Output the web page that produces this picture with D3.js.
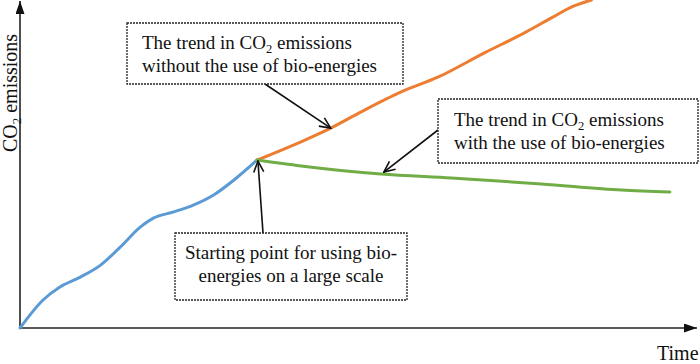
<!DOCTYPE html>
<html><head><meta charset="utf-8">
<script src="https://cdn.jsdelivr.net/npm/d3@7"></script>
<style>html,body{margin:0;padding:0;background:#fff;}svg{display:block;}
text{font-family:"Liberation Serif","Times New Roman",Tinos,"DejaVu Serif",serif;}</style>
</head><body>
<script>
// Data (arbitrary units)
const historyT   = [0, 3.4, 5.9, 8.9, 11.9, 14.8, 17.8, 19.7, 22.7, 25.6, 28.6, 31.6, 35];
const historyCO2 = [0, 8.6, 12.6, 15.6, 19.3, 24.8, 31.0, 33.7, 35.6, 37.7, 40.8, 45.4, 51.5];
const withoutT   = [35, 41.5, 45.9, 50.4, 56.3, 61.8, 68.6, 74.5, 78.5, 81.5, 84.4];
const withoutCO2 = [51.5, 57.1, 61.3, 66.3, 72.4, 77.0, 84.4, 90.5, 95.1, 98.5, 100.6];
const withT      = [35, 41.5, 53.3, 63.7, 77.0, 88.9, 96.0];
const withCO2    = [51.5, 49.7, 47.2, 46.0, 44.2, 42.3, 41.7];
const xLabel = "Time";
const yLabel = ["CO", "2", " emissions"];
const noteWithout = [["The trend in CO", "2", " emissions"], ["without the use of bio-energies"]];
const noteWith    = [["The trend in CO", "2", " emissions"], ["with the use of bio-energies"]];
const noteStart   = [["Starting point for using bio-"], ["energies on a large scale"]];

const W = 700, H = 364;
const svg = d3.select("body").append("svg").attr("width", W).attr("height", H);
const x = d3.scaleLinear().domain([0, 100]).range([20, 697]);
const y = d3.scaleLinear().domain([0, 100.6]).range([328, 0]);

const defs = svg.append("defs");
defs.append("marker").attr("id", "tri").attr("viewBox", "0 0 13 9")
  .attr("refX", 13).attr("refY", 4.5).attr("markerWidth", 13).attr("markerHeight", 9)
  .attr("markerUnits", "userSpaceOnUse").attr("orient", "auto")
  .append("path").attr("d", "M0,0L13,4.5L0,9Z").attr("fill", "#111");
defs.append("marker").attr("id", "open").attr("viewBox", "-1 -1 13 12")
  .attr("refX", 11).attr("refY", 5).attr("markerWidth", 13).attr("markerHeight", 12)
  .attr("markerUnits", "userSpaceOnUse").attr("orient", "auto")
  .append("path").attr("d", "M0,0L11,5L0,10").attr("fill", "none").attr("stroke", "#111").attr("stroke-width", 1.6);

// axes
const gx = svg.append("g").attr("transform", `translate(0,${y(0)})`)
  .call(d3.axisBottom(x).ticks(0).tickSizeOuter(0));
gx.select(".domain").attr("stroke", "#222").attr("stroke-width", 1.6).attr("marker-end", "url(#tri)")
  .attr("d", `M${x(0)},0H${x(100)}`);
const yAxisScale = d3.scaleLinear().domain([0, 100]).range([328, 1]);
const gy = svg.append("g").attr("transform", `translate(${x(0)},0)`)
  .call(d3.axisLeft(yAxisScale).ticks(0).tickSizeOuter(0));
gy.select(".domain").attr("stroke", "#222").attr("stroke-width", 1.6).attr("marker-end", "url(#tri)")
  .attr("d", `M0,${yAxisScale(0)}V${yAxisScale(100)}`);

// lines
const line = d3.line().x(d => x(d[0])).y(d => y(d[1])).curve(d3.curveMonotoneX);
const series = [
  {t: historyT, v: historyCO2, c: "#5b9bd5"},
  {t: withoutT, v: withoutCO2, c: "#ed7d31"},
  {t: withT, v: withCO2, c: "#70ad47"}
];
series.forEach(s => {
  svg.append("path").datum(s.t.map((t, i) => [t, s.v[i]]))
    .attr("d", line).attr("fill", "none").attr("stroke", s.c)
    .attr("stroke-width", 3).attr("stroke-linecap", "round");
});

// axis labels
svg.append("text").attr("x", 657).attr("y", 360)
  .attr("font-size", 20).attr("fill", "#111").text(xLabel);
const yl = svg.append("text").attr("transform", "translate(17,93) rotate(-90)")
  .attr("text-anchor", "middle").attr("font-size", 20).attr("fill", "#111");
yl.append("tspan").text(yLabel[0]);
yl.append("tspan").attr("font-size", 13).attr("dy", 4).text(yLabel[1]);
yl.append("tspan").attr("dy", -4).text(yLabel[2]);

function note(box, lines, tx, anchor, y0) {
  svg.append("rect").attr("x", box[0]).attr("y", box[1]).attr("width", box[2] - box[0])
    .attr("height", box[3] - box[1]).attr("fill", "#fff").attr("stroke", "#222")
    .attr("stroke-width", 1.3).attr("stroke-dasharray", "2,1");
  lines.forEach((parts, i) => {
    const t = svg.append("text").attr("x", tx).attr("y", y0 + i * 23).attr("text-anchor", anchor)
      .attr("font-size", 19).attr("fill", "#111");
    parts.forEach((p, j) => {
      const ts = t.append("tspan").text(p);
      if (parts.length === 3 && j === 1) ts.attr("font-size", 12.5).attr("dy", 4);
      if (parts.length === 3 && j === 2) ts.attr("dy", -4);
    });
  });
}
function arrow(x1, y1, x2, y2) {
  svg.append("line").attr("x1", x1).attr("y1", y1).attr("x2", x2).attr("y2", y2)
    .attr("stroke", "#111").attr("stroke-width", 1.6).attr("marker-end", "url(#open)");
}
arrow(265, 84, x(withoutT[2]), y(withoutCO2[2]));
arrow(438, 130, x(withT[2]) + 3, y(withCO2[2]) - 2);
arrow(263, 233, x(historyT[historyT.length - 1]) + 1, y(historyCO2[historyCO2.length - 1]) + 1);

note([127, 23, 403, 84], noteWithout, 142, "start", 49);
note([438, 99, 698, 163], noteWith, 454, "start", 126);
note([175, 233, 407, 300], noteStart, 291, "middle", 259);
</script>
</body></html>
